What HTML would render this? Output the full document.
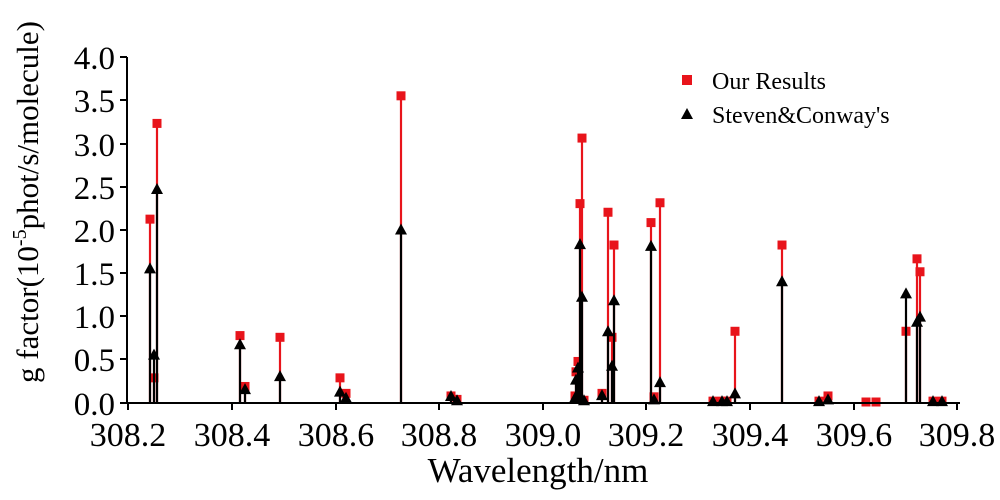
<!DOCTYPE html>
<html><head><meta charset="utf-8"><style>
html,body{margin:0;padding:0;background:#fff;}
svg{display:block;font-family:"Liberation Serif",serif;}
</style></head><body>
<svg width="1000" height="500" viewBox="0 0 1000 500">
<g id="red" stroke="#e8141b" stroke-width="2.2" fill="#e8141b"></g>
<g id="blk" stroke="#000" stroke-width="2.2" fill="#000"></g>
<g stroke="#000" stroke-width="2" fill="none">
<line x1="127" y1="57" x2="127" y2="403"/>
<line x1="126" y1="403" x2="960" y2="403"/>
<line x1="120" y1="57" x2="127" y2="57"/><line x1="120" y1="100" x2="127" y2="100"/>
<line x1="120" y1="144" x2="127" y2="144"/><line x1="120" y1="187" x2="127" y2="187"/>
<line x1="120" y1="230" x2="127" y2="230"/><line x1="120" y1="273" x2="127" y2="273"/>
<line x1="120" y1="316" x2="127" y2="316"/><line x1="120" y1="359" x2="127" y2="359"/>
<line x1="120" y1="403" x2="127" y2="403"/>
<line x1="128" y1="403" x2="128" y2="410"/><line x1="232" y1="403" x2="232" y2="410"/>
<line x1="336" y1="403" x2="336" y2="410"/><line x1="439" y1="403" x2="439" y2="410"/>
<line x1="543" y1="403" x2="543" y2="410"/><line x1="646" y1="403" x2="646" y2="410"/>
<line x1="750" y1="403" x2="750" y2="410"/><line x1="854" y1="403" x2="854" y2="410"/>
<line x1="957" y1="403" x2="957" y2="410"/>
</g>
<g font-size="33" text-anchor="end" fill="#000">
<text x="115" y="69">4.0</text><text x="115" y="112">3.5</text><text x="115" y="156">3.0</text>
<text x="115" y="199">2.5</text><text x="115" y="242">2.0</text><text x="115" y="285">1.5</text>
<text x="115" y="328">1.0</text><text x="115" y="371">0.5</text><text x="115" y="415">0.0</text>
</g>
<g font-size="34" text-anchor="middle" fill="#000">
<text x="128" y="446">308.2</text><text x="232" y="446">308.4</text><text x="336" y="446">308.6</text>
<text x="439" y="446">308.8</text><text x="543" y="446">309.0</text><text x="646" y="446">309.2</text>
<text x="750" y="446">309.4</text><text x="854" y="446">309.6</text><text x="957" y="446">309.8</text>
<text x="538" y="482" font-size="35">Wavelength/nm</text>
<text transform="translate(38,202) rotate(-90)" font-size="31">g factor(10<tspan dy="-12" font-size="20">-5</tspan><tspan dy="12">phot/s/molecule)</tspan></text>
</g>
<rect x="682" y="75" width="10" height="10" fill="#e8141b"/>
<text x="712" y="89" font-size="24">Our Results</text>
<polygon points="687,108 693,119 681,119" fill="#000"/>
<text x="712" y="123" font-size="24">Steven&amp;Conway's</text>
<script>
var d=[[150,2.12,1.55],[154,0.28,0.55],[157,3.23,2.47],[240,0.77,0.67],[245,0.18,0.15],[280,0.75,0.30],[340,0.28,0.12],[346,0.1,0.05],[401,3.55,2.0],[451,0.07,0.07],[457,0.03,0.02],[575,0.07,0.05],[576,0.35,0.26],[578,0.47,0.40],[580,2.30,1.83],[582,3.06,1.22],[584,0.02,0.02],[602,0.1,0.08],[608,2.2,0.82],[612,0.75,0.42],[614,1.82,1.18],[651,2.08,1.81],[654,0.06,0.03],[660,2.31,0.23],[713,0.01,0.01],[722,0.01,0.01],[727,0.01,0.01],[735,0.82,0.10],[782,1.82,1.40],[819,0.01,0.01],[828,0.07,0.03],[866,0,null],[876,0,null],[906,0.82,1.26],[917,1.66,0.93],[920,1.51,0.99],[933,0.01,0.01],[942,0.01,0.01]];
var ns="http://www.w3.org/2000/svg",R=document.getElementById("red"),B=document.getElementById("blk");
function y(v){return 402-86.25*v;}
function el(p,t,a){var e=document.createElementNS(ns,t);for(var k in a)e.setAttribute(k,a[k]);p.appendChild(e);}
d.forEach(function(r){var x=r[0];
el(R,"line",{x1:x,y1:402,x2:x,y2:y(r[1])});
el(R,"rect",{x:x-4.5,y:y(r[1])-4.5,width:9,height:9,stroke:"none"});});
d.forEach(function(r){if(r[2]===null)return;var x=r[0],yy=y(r[2]);
el(B,"line",{x1:x,y1:402,x2:x,y2:yy});
el(B,"polygon",{points:(x)+","+(yy-6)+" "+(x+6)+","+(yy+5)+" "+(x-6)+","+(yy+5),stroke:"none"});});
</script>
</svg>
</body></html>
